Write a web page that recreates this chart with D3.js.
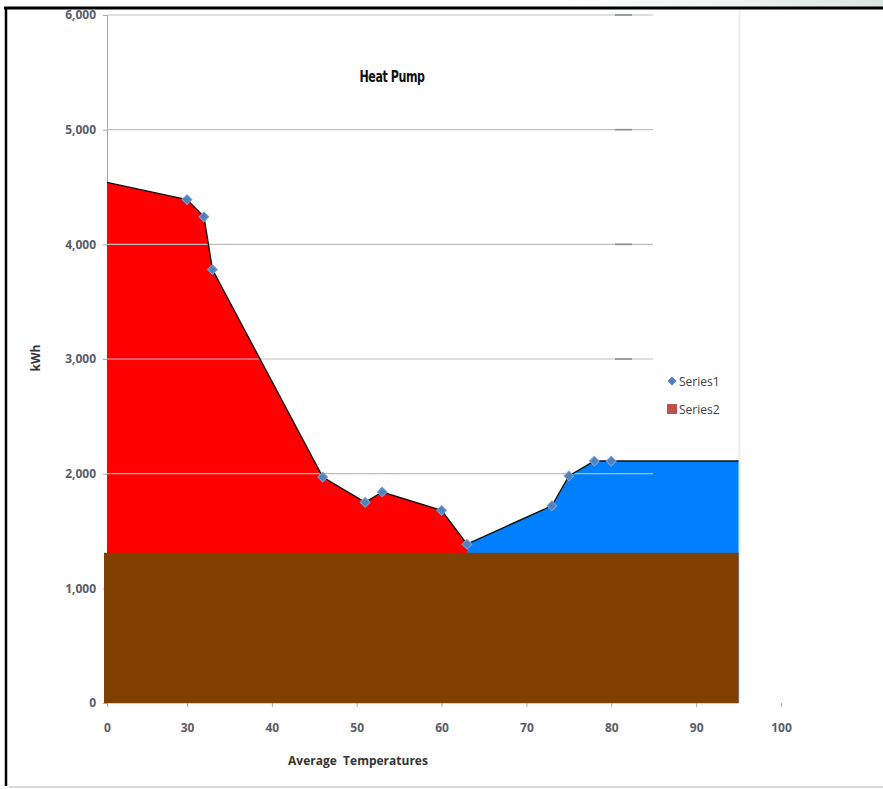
<!DOCTYPE html>
<html>
<head>
<meta charset="utf-8">
<title>Heat Pump</title>
<style>
body { margin: 0; background: #fff; }
.axis text { font-family: "Open Sans", sans-serif; font-size: 12px; font-weight: bold; fill: #585c68; }
.axis path, .axis line { stroke: #a6a6a6; }
</style>
</head>
<body>
<script src="https://cdn.jsdelivr.net/npm/d3@7/dist/d3.min.js"></script>
<script>

// Series1: measured points (diamonds)
var series1Temp = [30, 32, 33, 46, 51, 53, 60, 63, 73, 75, 78, 80];
var series1Kwh  = [4390, 4240, 3780, 1970, 1750, 1840, 1680, 1385, 1720, 1980, 2110, 2110];
// ends of the filled curve (no marker)
var edgeTemp = [0, 95];
var edgeKwh  = [4540, 2110];
var splitTemp = 63;      // red (heating) to the left, blue (cooling) to the right
var baseLoad = 1310;     // brown band
var xTicks = [0, 30, 40, 50, 60, 70, 80, 90, 100];
var yTicks = [0, 1000, 2000, 3000, 4000, 5000, 6000];
var legendNames = ["Series1", "Series2"];

var w = 883, h = 789;

var svg = d3.select("body").append("svg")
    .attr("width", w)
    .attr("height", h);

// axis is not even: 0 -> 30 takes the same room as one step of 10
var x = d3.scaleLinear()
    .domain([0, 30, 100])
    .range([107, 187, 781]);
var y = d3.scaleLinear()
    .domain([0, 6000])
    .range([703, 15]);

var points = [];
points.push([edgeTemp[0], edgeKwh[0]]);
for (var i = 0; i < series1Temp.length; i++) {
    points.push([series1Temp[i], series1Kwh[i]]);
}
points.push([edgeTemp[1], edgeKwh[1]]);

var heat = points.filter(function(d) { return d[0] <= splitTemp; });
var cool = points.filter(function(d) { return d[0] >= splitTemp; });

var area = d3.area()
    .x(function(d) { return x(d[0]); })
    .y0(y(0))
    .y1(function(d) { return y(d[1]); });

// frame of the screenshot
var grad = svg.append("defs").append("linearGradient")
    .attr("id", "strip").attr("x1", "0").attr("x2", "1");
grad.append("stop").attr("offset", "0").attr("stop-color", "#ffffff");
grad.append("stop").attr("offset", "1").attr("stop-color", "#dbe6e3");
svg.append("rect").attr("x", 560).attr("y", 0).attr("width", w - 560).attr("height", 7)
    .attr("fill", "url(#strip)");
svg.append("line").attr("x1", 4).attr("x2", w).attr("y1", 8).attr("y2", 8)
    .attr("stroke", "#000").attr("stroke-width", 3);
svg.append("line").attr("x1", 6).attr("x2", 6).attr("y1", 8).attr("y2", 786)
    .attr("stroke", "#000").attr("stroke-width", 2.5);
svg.append("line").attr("x1", 9).attr("x2", w).attr("y1", 787).attr("y2", 787)
    .attr("stroke", "#d4d8d8").attr("stroke-width", 2);

// plot area right edge
svg.append("line").attr("x1", x(95) + 1).attr("x2", x(95) + 1).attr("y1", 10).attr("y2", y(0))
    .attr("stroke", "#ececec").attr("stroke-width", 2);

var yAxis = d3.axisLeft(y).tickValues(yTicks).tickFormat(d3.format(",")).tickSize(4).tickPadding(7);
var xAxis = d3.axisBottom(x).tickValues(xTicks).tickFormat(d3.format("d")).tickSize(4).tickPadding(16);

svg.append("g")
    .attr("class", "axis")
    .attr("transform", "translate(" + x(0) + ",0)")
    .call(yAxis);

var gx = svg.append("g")
    .attr("class", "axis")
    .attr("transform", "translate(0," + y(0) + ")")
    .call(xAxis);
gx.select(".domain").attr("d", "M" + x(0) + ",0H" + x(95));

svg.append("path").datum(heat).attr("d", area).attr("fill", "#ff0000");
svg.append("path").datum(cool).attr("d", area).attr("fill", "#0080ff");

// gridlines
svg.selectAll(".grid")
    .data(yTicks.filter(function(d) { return d > 0; }))
    .enter().append("line")
    .attr("class", "grid")
    .attr("x1", x(0)).attr("x2", 653)
    .attr("y1", function(d) { return y(d); })
    .attr("y2", function(d) { return y(d); })
    .attr("stroke", "#bdbdbd").attr("stroke-width", 1.2);
svg.selectAll(".gtick")
    .data(yTicks.filter(function(d) { return d >= 3000; }))
    .enter().append("line")
    .attr("class", "gtick")
    .attr("x1", 615).attr("x2", 632)
    .attr("y1", function(d) { return y(d); })
    .attr("y2", function(d) { return y(d); })
    .attr("stroke", "#8c8c8c").attr("stroke-width", 1.6);

// base load band
svg.append("rect")
    .attr("x", x(0) - 3)
    .attr("y", y(baseLoad))
    .attr("width", x(edgeTemp[1]) - x(0) + 3)
    .attr("height", y(0) - y(baseLoad))
    .attr("fill", "#7f3f00");

// Series1 line and markers
var line = d3.line()
    .x(function(d) { return x(d[0]); })
    .y(function(d) { return y(d[1]); });
svg.append("path").datum(points).attr("d", line)
    .attr("fill", "none").attr("stroke", "#111").attr("stroke-width", 1.4);

var diamond = d3.symbol().type(d3.symbolSquare).size(48);
svg.selectAll(".mark")
    .data(series1Temp)
    .enter().append("path")
    .attr("class", "mark")
    .attr("d", diamond)
    .attr("transform", function(d, i) {
        return "translate(" + x(d) + "," + y(series1Kwh[i]) + ") rotate(45)";
    })
    .attr("fill", "#4f81bd")
    .attr("stroke", "#7fa3d1").attr("stroke-width", 1);

// titles
svg.append("text")
    .attr("transform", "translate(392,82) scale(0.74,1)")
    .attr("text-anchor", "middle")
    .attr("font-family", "'DejaVu Sans', sans-serif")
    .attr("font-weight", "bold")
    .attr("font-size", "15px")
    .attr("letter-spacing", "-0.6px")
    .attr("fill", "#111")
    .text("Heat Pump");

svg.append("text")
    .attr("x", 358).attr("y", 765)
    .attr("text-anchor", "middle")
    .attr("font-family", "'Open Sans', sans-serif")
    .attr("font-weight", "bold")
    .attr("font-size", "12px")
    .attr("fill", "#333")
    .style("white-space", "pre")
    .text("Average  Temperatures");

svg.append("text")
    .attr("transform", "translate(40,358) rotate(-90)")
    .attr("text-anchor", "middle")
    .attr("font-family", "'Open Sans', sans-serif")
    .attr("font-weight", "bold")
    .attr("font-size", "12px")
    .attr("fill", "#333")
    .text("kWh");

// legend
var lg = svg.append("g").attr("transform", "translate(672,381)");
lg.append("path")
    .attr("d", d3.symbol().type(d3.symbolSquare).size(40))
    .attr("transform", "rotate(45)")
    .attr("fill", "#4f81bd");
lg.append("rect").attr("x", -5).attr("y", 23).attr("width", 10).attr("height", 10)
    .attr("fill", "#c0504d");
lg.selectAll(".lt")
    .data(legendNames)
    .enter().append("text")
    .attr("class", "lt")
    .attr("x", 7)
    .attr("y", function(d, i) { return 4.5 + i * 28; })
    .attr("font-family", "'Open Sans', sans-serif")
    .attr("font-size", "12px")
    .attr("fill", "#404040")
    .text(function(d) { return d; });

</script>
</body>
</html>
